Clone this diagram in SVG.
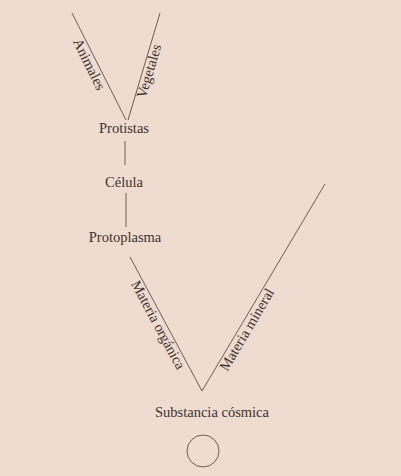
<svg xmlns="http://www.w3.org/2000/svg" width="401" height="476" viewBox="0 0 401 476">
<style>
.t{font-family:"Liberation Serif","Times New Roman",serif;font-size:14.5px;fill:#3d3232;text-anchor:middle}
.l{stroke:#6e5e58;stroke-width:1;fill:none}
</style>
<rect width="401" height="476" fill="#efdbd0"/>
<g id="connectors">
<line class="l" x1="72" y1="13" x2="126" y2="120"/>
<line class="l" x1="160" y1="13" x2="128" y2="120"/>
<line class="l" x1="125" y1="141" x2="125" y2="165"/>
<line class="l" x1="126" y1="193" x2="126" y2="227"/>
<line class="l" x1="130" y1="257" x2="202" y2="391"/>
<line class="l" x1="325" y1="184" x2="202" y2="391"/>
<text class="t" font-size="13.5" transform="translate(85,66.4) rotate(63.6)">Animales</text>
<text class="t" font-size="13.5" transform="translate(153.5,72.5) rotate(-73.3)">Vegetales</text>
<text class="t" transform="translate(154,327.1) rotate(61.8)">Materia orgánica</text>
<text class="t" transform="translate(250.9,332.1) rotate(-59.3)">Materia mineral</text>
</g>
<g id="protistas"><text class="t" x="124" y="133">Protistas</text></g>
<g id="celula"><text class="t" x="124" y="187">Célula</text></g>
<g id="protoplasma"><text class="t" x="125" y="242">Protoplasma</text></g>
<g id="substancia"><text class="t" x="212" y="417">Substancia cósmica</text></g>
<g id="circulo"><circle cx="203" cy="451" r="16" fill="none" stroke="#6e5e58" stroke-width="1"/></g>
</svg>
